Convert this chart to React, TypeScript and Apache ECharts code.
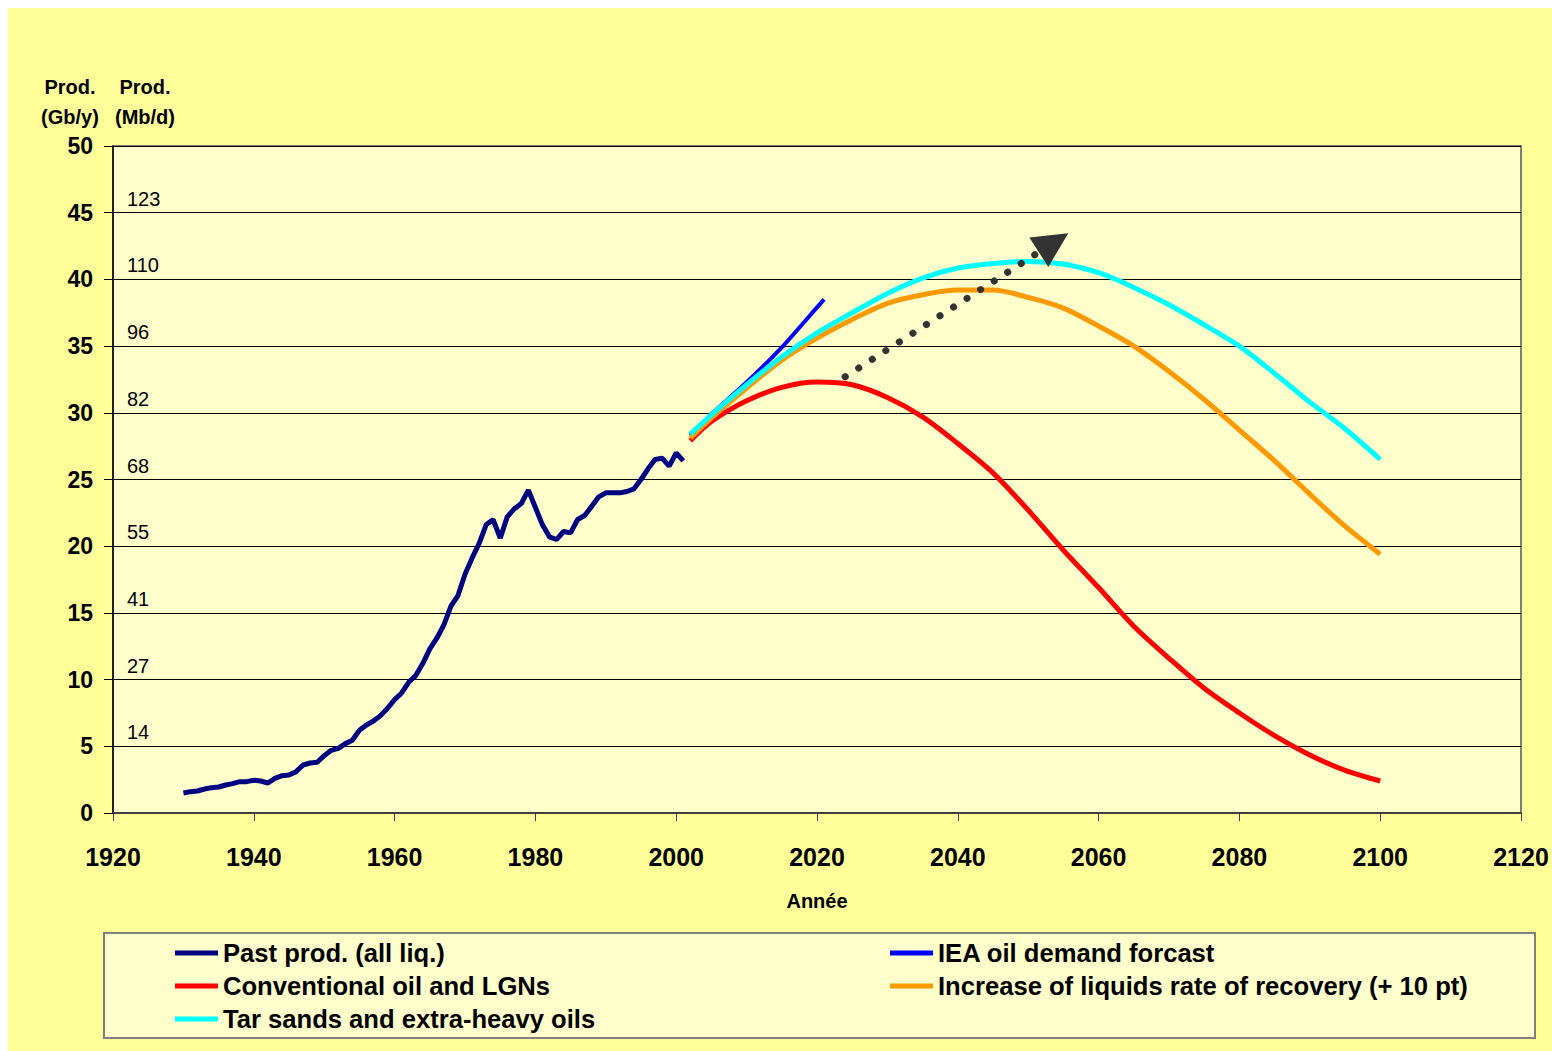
import React, { useEffect, useRef } from "react";
import * as echarts from "echarts";

const FONT = "'Liberation Sans', Arial, sans-serif";

const pastYears = [
  1930, 1931, 1932, 1933, 1934, 1935, 1936, 1937, 1938, 1939,
  1940, 1941, 1942, 1943, 1944, 1945, 1946, 1947, 1948, 1949,
  1950, 1951, 1952, 1953, 1954, 1955, 1956, 1957, 1958, 1959,
  1960, 1961, 1962, 1963, 1964, 1965, 1966, 1967, 1968, 1969,
  1970, 1971, 1972, 1973, 1974, 1975, 1976, 1977, 1978, 1979,
  1980, 1981, 1982, 1983, 1984, 1985, 1986, 1987, 1988, 1989,
  1990, 1991, 1992, 1993, 1994, 1995, 1996, 1997, 1998, 1999,
  2000, 2001,
];
const pastProd = [
  1.5, 1.6, 1.65, 1.8, 1.9, 1.95, 2.1, 2.2, 2.35, 2.35,
  2.45, 2.4, 2.25, 2.6, 2.8, 2.85, 3.1, 3.6, 3.75, 3.8,
  4.3, 4.7, 4.85, 5.2, 5.45, 6.2, 6.6, 6.9, 7.3, 7.85,
  8.5, 9.0, 9.8, 10.3, 11.2, 12.3, 13.1, 14.1, 15.5, 16.3,
  17.9, 19.1, 20.2, 21.6, 22.0, 20.6, 22.2, 22.8, 23.2, 24.2,
  22.9, 21.6, 20.7, 20.5, 21.1, 21.0, 22.0, 22.3, 23.0, 23.7,
  24.0, 24.0, 24.0, 24.1, 24.3, 25.0, 25.8, 26.5, 26.6, 26.0,
  27.0, 26.4,
];

const ieaYears = [2002, 2005, 2010, 2015, 2020, 2021];
const ieaDemand = [28.3, 29.9, 32.3, 34.9, 37.9, 38.5];

const forecastYears = [
  2002, 2005, 2010, 2015, 2020, 2025, 2030, 2035, 2040, 2045, 2050,
  2055, 2060, 2065, 2070, 2075, 2080, 2085, 2090, 2095, 2100,
];
const conventional = [
  27.9, 29.35, 30.9, 31.9, 32.3, 32.1, 31.15, 29.7, 27.7, 25.5, 22.7,
  19.7, 16.9, 14.0, 11.6, 9.35, 7.5, 5.8, 4.35, 3.2, 2.4,
];
const recovery = [
  28.1, 29.6, 31.85, 33.95, 35.6, 37.0, 38.2, 38.85, 39.2, 39.2, 38.65,
  37.85, 36.5, 35.0, 33.1, 31.0, 28.7, 26.4, 23.9, 21.5, 19.4,
];
const tarSands = [
  28.4, 29.85, 32.1, 34.2, 36.0, 37.5, 38.95, 40.1, 40.85, 41.2, 41.35,
  41.15, 40.5, 39.4, 38.1, 36.6, 35.0, 32.95, 30.8, 28.8, 26.5,
];

const gbTicks = [5, 10, 15, 20, 25, 30, 35, 40, 45];
const mbdLabels = ["14", "27", "41", "55", "68", "82", "96", "110", "123"];

const arrowFrom = [2024, 32.7];
const arrowTo = [2053.6, 42.75];

const NAMES = {
  past: "Past prod. (all liq.)",
  iea: "IEA oil demand forcast",
  conv: "Conventional oil and LGNs",
  rec: "Increase of liquids rate of recovery (+ 10 pt)",
  tar: "Tar sands and extra-heavy oils",
};

const pairs = (xs: number[], ys: number[]) => xs.map((x, i) => [x, ys[i]]);

export default function App() {
  const ref = useRef<HTMLDivElement>(null);

  useEffect(() => {
    document.body.style.overflow = "hidden";
    if (!ref.current) return;
    const chart = echarts.init(ref.current, undefined, { renderer: "svg" });

    const legendText = {
      fontSize: 25.6,
      fontWeight: "bold",
      fontFamily: FONT,
      color: "#000",
      lineHeight: 26,
    };

    const lineSeries = (name: string, data: number[][], color: string, width: number, smooth: number | boolean) => ({
      name,
      type: "line",
      data,
      symbol: "none",
      smooth,
      lineStyle: { color, width },
      itemStyle: { color },
      emphasis: { disabled: true },
    });

    chart.setOption({
      animation: false,
      backgroundColor: "#FFFF99",
      textStyle: { fontFamily: FONT },
      grid: {
        left: 105,
        top: 138,
        right: 31,
        bottom: 238,
        show: true,
        backgroundColor: "#FFFFCC",
        borderColor: "#808080",
        borderWidth: 2,
      },
      xAxis: {
        type: "value",
        min: 1920,
        max: 2120,
        interval: 20,
        name: "Année",
        nameLocation: "middle",
        nameGap: 78,
        nameTextStyle: { fontSize: 20, fontWeight: "bold", color: "#000", fontFamily: FONT },
        axisLine: { show: true, lineStyle: { color: "#404040", width: 2 } },
        axisTick: { show: true, length: 8, lineStyle: { color: "#404040", width: 1 } },
        axisLabel: {
          margin: 31,
          fontSize: 25,
          fontWeight: "bold",
          color: "#000",
          fontFamily: FONT,
          formatter: (v: number) => String(v),
        },
        splitLine: { show: false },
      },
      yAxis: [
        {
          type: "value",
          min: 0,
          max: 50,
          interval: 5,
          axisLine: { show: true, lineStyle: { color: "#000", width: 1.5 } },
          axisTick: { show: true, length: 9, lineStyle: { color: "#000", width: 1 } },
          axisLabel: {
            margin: 20,
            fontSize: 23,
            fontWeight: "bold",
            color: "#000",
            fontFamily: FONT,
          },
          splitLine: { show: true, lineStyle: { color: "#000", width: 1 } },
        },
        {
          type: "value",
          min: 0,
          max: 50,
          interval: 5,
          position: "left",
          axisLine: { show: false },
          axisTick: { show: false },
          splitLine: { show: false },
          axisLabel: {
            inside: true,
            margin: 14,
            fontSize: 20,
            color: "#000",
            fontFamily: FONT,
            verticalAlign: "bottom",
            padding: [0, 0, 4, 0],
            formatter: (v: number) => {
              const i = gbTicks.indexOf(v);
              return i >= 0 ? mbdLabels[i] : "";
            },
          },
        },
      ],
      legend: [
        {
          data: [NAMES.past, NAMES.conv, NAMES.tar],
          orient: "vertical",
          left: 167,
          top: 932,
          padding: 0,
          itemWidth: 43,
          itemHeight: 5,
          itemGap: 7,
          icon: "rect",
          selectedMode: false,
          textStyle: legendText,
        },
        {
          data: [NAMES.iea, NAMES.rec],
          orient: "vertical",
          left: 882,
          top: 932,
          padding: 0,
          itemWidth: 43,
          itemHeight: 5,
          itemGap: 7,
          icon: "rect",
          selectedMode: false,
          textStyle: legendText,
        },
      ],
      graphic: [
        {
          type: "rect",
          z: 0,
          shape: { x: 96, y: 925, width: 1431, height: 105 },
          style: { fill: "#FFFFCC", stroke: "#808080", lineWidth: 2 },
        },
        {
          type: "text",
          x: 62,
          y: 79,
          style: { text: "Prod.", font: `bold 20px ${FONT}`, fill: "#000", textAlign: "center", textVerticalAlign: "middle" },
        },
        {
          type: "text",
          x: 62,
          y: 109,
          style: { text: "(Gb/y)", font: `bold 20px ${FONT}`, fill: "#000", textAlign: "center", textVerticalAlign: "middle" },
        },
        {
          type: "text",
          x: 137,
          y: 79,
          style: { text: "Prod.", font: `bold 20px ${FONT}`, fill: "#000", textAlign: "center", textVerticalAlign: "middle" },
        },
        {
          type: "text",
          x: 137,
          y: 109,
          style: { text: "(Mb/d)", font: `bold 20px ${FONT}`, fill: "#000", textAlign: "center", textVerticalAlign: "middle" },
        },
      ],
      series: [
        lineSeries(NAMES.past, pairs(pastYears, pastProd), "#000080", 5, false),
        lineSeries(NAMES.iea, pairs(ieaYears, ieaDemand), "#0000FF", 4, 0.2),
        lineSeries(NAMES.conv, pairs(forecastYears, conventional), "#FF0000", 5, 0.3),
        lineSeries(NAMES.rec, pairs(forecastYears, recovery), "#FF9900", 5, 0.3),
        lineSeries(NAMES.tar, pairs(forecastYears, tarSands), "#00FFFF", 5, 0.3),
        {
          name: "arrow",
          type: "line",
          data: [],
          silent: true,
          markLine: {
            silent: true,
            animation: false,
            symbol: ["none", "triangle"],
            symbolSize: 35,
            label: { show: false },
            emphasis: { disabled: true },
            lineStyle: { color: "#333333", width: 7, type: [0.1, 16], cap: "round" },
            data: [[{ coord: arrowFrom }, { coord: arrowTo }]],
          },
        },
      ],
    });

    return () => chart.dispose();
  }, []);

  return (
    <div
      ref={ref}
      style={{ position: "fixed", left: 8, top: 8, width: 1544, height: 1043 }}
    />
  );
}
